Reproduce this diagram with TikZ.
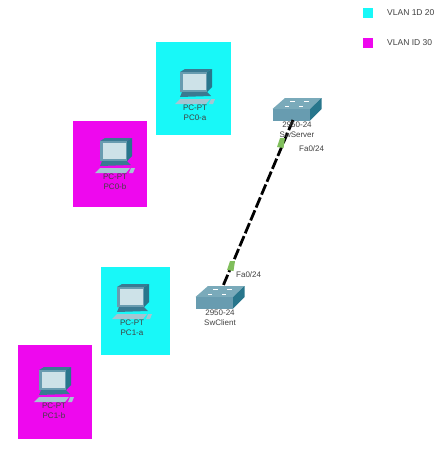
\documentclass[tikz,border=0pt]{standalone}
\usepackage{fontspec}
\setmainfont{Liberation Sans}
\usetikzlibrary{positioning}

\definecolor{vlantwenty}{RGB}{24,248,248}
\definecolor{vlanthirty}{RGB}{238,8,238}
\definecolor{tealfront}{RGB}{104,156,176}
\definecolor{tealdark}{RGB}{58,122,146}
\definecolor{tealside}{RGB}{40,118,140}
\definecolor{tealtop}{RGB}{122,170,186}
\definecolor{screenlight}{RGB}{205,226,232}
\definecolor{keylight}{RGB}{165,198,210}
\definecolor{portgreen}{RGB}{128,190,92}

\tikzset{
    x=1pt, y=-1pt,
    vlanbox/.style={anchor=north west, inner sep=0pt, outer sep=0pt},
    devtext/.style={font=\fontsize{8}{10}\selectfont, align=center, inner sep=0pt, text=black!75},
    legendtext/.style={font=\fontsize{8.5}{10}\selectfont, anchor=west, inner sep=0pt, text=black!75},
    trunk/.style={line width=2.8pt, dash pattern=on 11pt off 3pt},
    pcicon/.pic={
        \fill[tealdark] (-15,-15) -- (-10,-18) -- (17,-18) -- (12,-15) -- (12,5) -- (-15,5) -- cycle;
        \fill[tealside] (12,-15) -- (17,-18) -- (17,0) -- (12,5) -- cycle;
        \fill[tealfront] (-15,-15) -- (12,-15) -- (12,5) -- (-15,5) -- cycle;
        \fill[screenlight] (-12.5,-13.5) -- (10.5,-13.5) -- (10.5,2.5) -- (-12.5,2.5) -- cycle;
        \fill[tealdark] (-13,5) -- (12,5) -- (16,9) -- (-15,10) -- cycle;
        \fill[keylight] (-15,12) -- (15,12) -- (11,17) -- (-20,17) -- cycle;
        \fill[keylight] (16,12) -- (20,12) -- (18,17) -- (14,17) -- cycle;
    },
    switchicon/.pic={
        \fill[tealtop] (-24.5,-1) -- (-12,-12) -- (24.5,-12) -- (13,-1) -- cycle;
        \fill[tealfront] (-24.5,-1) -- (13,-1) -- (13,10.5) -- (-24.5,10.5) -- cycle;
        \fill[tealside] (13,-1) -- (24.5,-12) -- (24.5,-1) -- (13,10.5) -- cycle;
        \draw[white, line width=0.7pt] (-7,-8.5) -- (-2,-8.5) (7,-8.5) -- (12,-8.5) (-12,-3.5) -- (-8,-3.5) (2,-3.5) -- (6,-3.5);
    },
    portmark/.pic={
        \fill[portgreen] (-1,-5) -- (4,-5) -- (2.5,5) -- (-4,4) -- cycle;
    }
}

\begin{document}
\begin{tikzpicture}
    \useasboundingbox (0,0) rectangle (446,450);

    % vlan boxes with their pcs
    \foreach \name/\col/\bx/\by/\bw/\bh/\cx/\cy in {
        PC0-a/vlantwenty/156/42/75/93/195/87,
        PC0-b/vlanthirty/73/121/74/86/115/156,
        PC1-a/vlantwenty/101/267/69/88/132/302,
        PC1-b/vlanthirty/18/345/74/94/54/385} {
        \node[vlanbox, fill=\col, minimum width=\bw pt, minimum height=\bh pt] (\name box) at (\bx,\by) {};
        \coordinate (\name icon) at (\cx,\cy);
        \pic at (\name icon) {pcicon};
        \node[devtext, below=18pt of \name icon] (\name text) {PC-PT\\\name};
    }

    % switches
    \coordinate (SwServer) at (297,110);
    \coordinate (SwClient) at (220,298);
    \pic at (SwServer) {switchicon};
    \pic at (SwClient) {switchicon};
    \coordinate (SwServer port) at (293,120);
    \coordinate (SwClient port) at (223,286);
    \draw[trunk] (SwServer port) -- (SwClient port);
    \pic at (281,143) {portmark};
    \pic at (231,266) {portmark};

    \node[devtext, below=12pt of SwServer] (SwServer text) {2950-24\\SwServer};
    \node[devtext, below=11.5pt of SwClient] (SwClient text) {2950-24\\SwClient};
    \node[devtext, right=6pt of SwServer port, yshift=-29pt] (SwServer fa) {Fa0/24};
    \node[devtext, right=13pt of SwClient port, yshift=11pt] (SwClient fa) {Fa0/24};

    % legend
    \foreach \col/\ly/\txt in {vlantwenty/13/VLAN 1D 20, vlanthirty/43/VLAN ID 30} {
        \fill[\col] (363,\ly-5) rectangle (373,\ly+5);
        \node[legendtext] (legend \ly) at (387,\ly) {\txt};
    }
\end{tikzpicture}
\end{document}
